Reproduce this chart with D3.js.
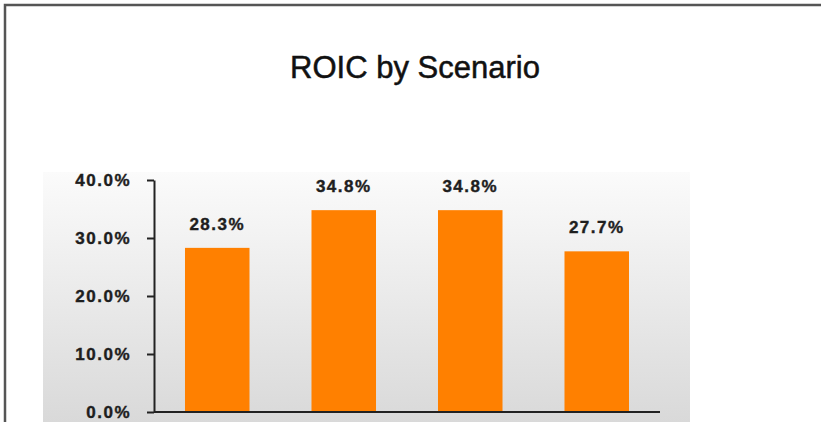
<!DOCTYPE html>
<html>
<head>
    <meta charset="utf-8">
    <title>ROIC by Scenario</title>
    <script src="https://d3js.org/d3.v7.min.js"></script>
    <style>
        body { margin: 0; background: #fff; }
        .tick text, .val {
            font-family: "Liberation Sans", Arial, sans-serif;
            font-weight: bold;
            fill: #1e1e1e;
            stroke: #1e1e1e;
            stroke-width: 0.4px;
        }
    </style>
</head>
<body>
<svg width="821" height="422"></svg>
<script>

    // data
    var scenarios = ["Scenario 1", "Scenario 2", "Scenario 3", "Scenario 4"];
    var roic = [28.3, 34.8, 34.8, 27.7];
    var yTicks = [0, 10, 20, 30, 40];

    var svg = d3.select("svg");

    var x0 = 154, x1 = 660, yBase = 412, yTop = 180;

    var x = d3.scaleBand()
        .domain(scenarios)
        .range([x0, x1])
        .paddingInner(0.49)
        .paddingOuter(0.245);

    var y = d3.scaleLinear()
        .domain([0, 40])
        .range([yBase, yTop]);

    // gradient panel behind the plot
    var defs = svg.append("defs");
    var grad = defs.append("linearGradient")
        .attr("id", "bg")
        .attr("x1", 0).attr("y1", 0).attr("x2", 0).attr("y2", 1);
    grad.append("stop").attr("offset", "0%").attr("stop-color", "#fbfbfb");
    grad.append("stop").attr("offset", "100%").attr("stop-color", "#d9d9d9");

    svg.append("rect")
        .attr("x", 43).attr("y", 172)
        .attr("width", 690 - 43).attr("height", 422 - 172)
        .attr("fill", "url(#bg)");

    // outer frame (top and left edges visible)
    svg.append("path")
        .attr("d", "M5,422 V5 H821")
        .attr("fill", "none")
        .attr("stroke", "#555")
        .attr("stroke-width", 2.5);

    // title
    svg.append("text")
        .attr("x", 415)
        .attr("y", 78)
        .attr("text-anchor", "middle")
        .style("font-family", "Liberation Sans, Arial, sans-serif")
        .style("font-size", "31px")
        .style("fill", "#111")
        .style("stroke", "#111")
        .style("stroke-width", "0.5px")
        .text("ROIC by Scenario");

    // bars
    svg.append("g")
        .selectAll("rect")
        .data(roic)
        .enter().append("rect")
        .attr("x", function(d, i) { return x(scenarios[i]); })
        .attr("y", function(d) { return y(d); })
        .attr("width", x.bandwidth())
        .attr("height", function(d) { return yBase - y(d); })
        .attr("fill", "#ff8000");

    // value labels
    svg.append("g")
        .selectAll("text")
        .data(roic)
        .enter().append("text")
        .attr("class", "val")
        .attr("x", function(d, i) { return x(scenarios[i]) + x.bandwidth() / 2; })
        .attr("y", function(d) { return y(d) - 18; })
        .attr("text-anchor", "middle")
        .style("font-size", "17px")
        .style("letter-spacing", "1.5px")
        .text(function(d) { return d.toFixed(1) + "%"; });

    // y axis
    var yAxis = svg.append("g")
        .attr("transform", "translate(" + x0 + ",0)")
        .call(d3.axisLeft(y)
            .tickValues(yTicks)
            .tickSize(7)
            .tickSizeOuter(0)
            .tickPadding(16)
            .tickFormat(function(d) { return d.toFixed(1) + "%"; }));
    yAxis.select(".domain").attr("stroke", "#222").attr("stroke-width", 2);
    yAxis.selectAll(".tick line").attr("stroke", "#222").attr("stroke-width", 2);
    yAxis.selectAll(".tick text")
        .style("font-size", "17px")
        .style("letter-spacing", "1.5px");

    // x axis line
    svg.append("line")
        .attr("x1", x0).attr("x2", x1)
        .attr("y1", yBase).attr("y2", yBase)
        .attr("stroke", "#222")
        .attr("stroke-width", 2);

</script>
</body>
</html>
